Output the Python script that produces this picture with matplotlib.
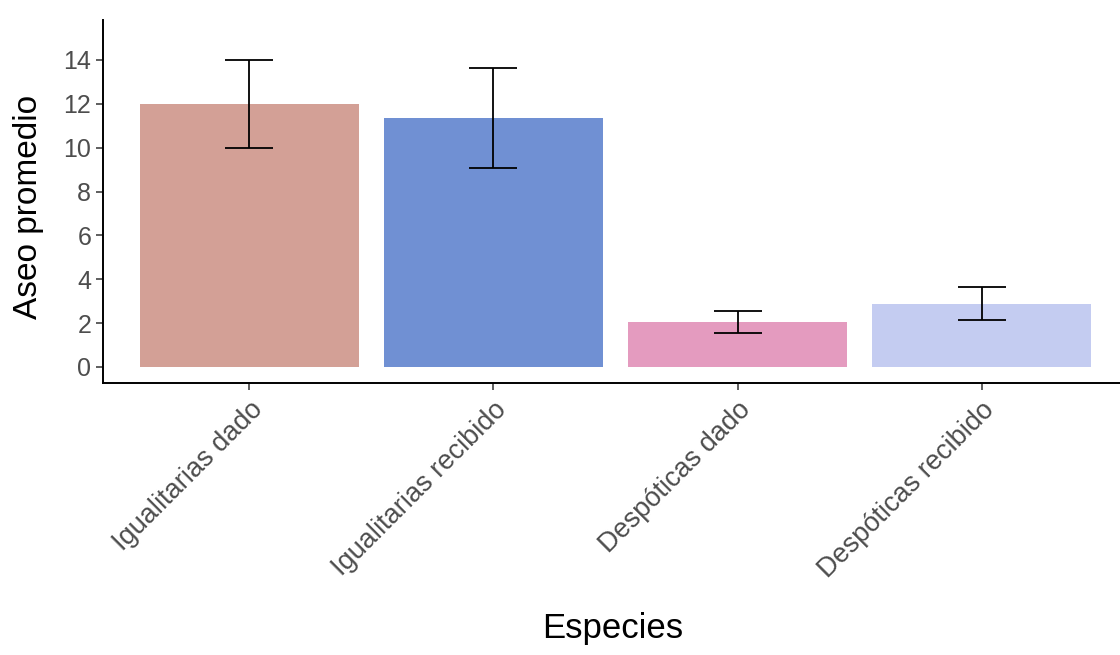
import matplotlib
matplotlib.use("Agg")
import matplotlib.pyplot as plt
import numpy as np

plt.rcParams["font.family"] = ["Liberation Sans", "DejaVu Sans"]

# data
categorias = ["Igualitarias dado", "Igualitarias recibido", "Despóticas dado", "Despóticas recibido"]
promedio = [12.0, 11.35, 2.05, 2.88]
error = [2.0, 2.3, 0.48, 0.75]
colores = ["#D3A096", "#7090D3", "#E49BBF", "#C4CCF1"]

fig = plt.figure(figsize=(11.2, 6.55), dpi=100)
ax = fig.add_axes((103 / 1120, 272 / 655, 1025 / 1120, 363 / 655))

x = np.arange(len(categorias))
ax.bar(x, promedio, width=0.9, color=colores, zorder=2)
ax.errorbar(x, promedio, yerr=error, fmt="none", ecolor="black",
            elinewidth=1.3, capsize=17.5, capthick=1.3, zorder=3)

ax.set_xlim(-0.6, 3.6)
ax.set_ylim(-0.73, 15.82)
ax.set_yticks(np.arange(0, 15, 2))
ax.set_xticks(x)
ax.set_xticklabels(categorias, rotation=45, ha="right", va="top",
                   rotation_mode="anchor", fontsize=19.5)

for side in ("top", "right"):
    ax.spines[side].set_visible(False)
for side in ("left", "bottom"):
    ax.spines[side].set_linewidth(1.4)
    ax.spines[side].set_color("black")

ax.tick_params(axis="both", length=5, width=1.1, color="#333333",
               labelcolor="#4D4D4D")
ax.tick_params(axis="y", labelsize=18)
ax.tick_params(axis="x", pad=5)

ax.set_xlabel("Especies", fontsize=25)
ax.xaxis.set_label_coords(0.497, -0.632)
ax.set_ylabel("Aseo promedio", fontsize=24)
ax.yaxis.set_label_coords(-0.058, 0.485)

fig.savefig("out.png", dpi=100)
